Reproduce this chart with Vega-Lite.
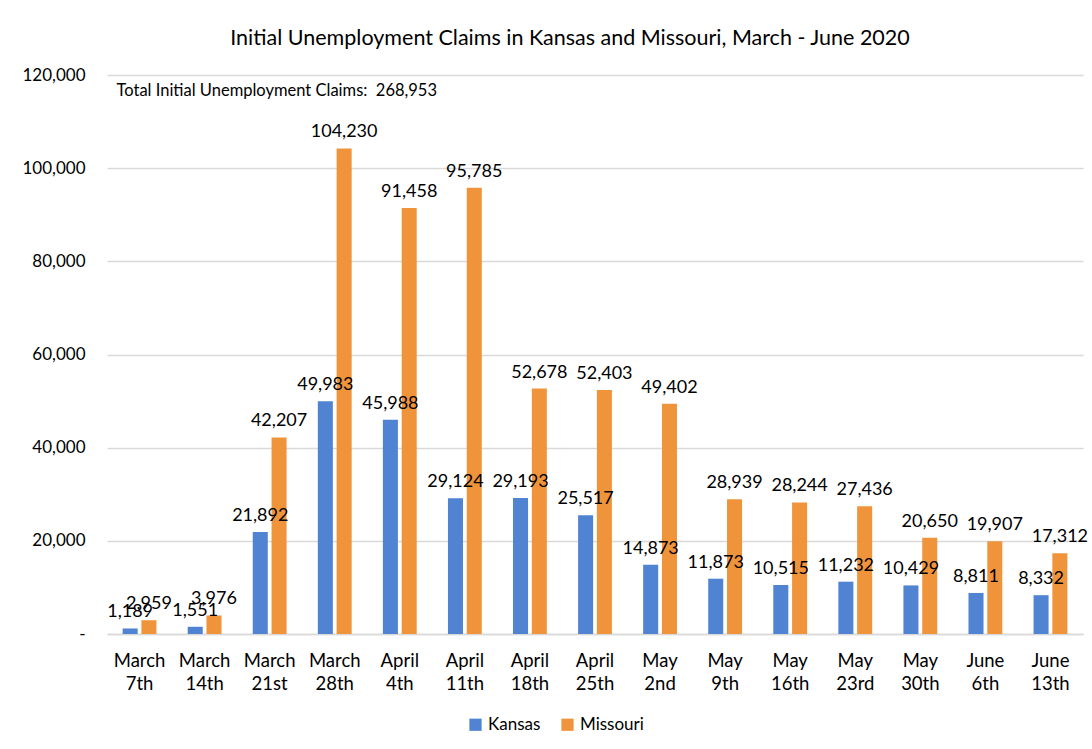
{
  "$schema": "https://vega.github.io/schema/vega-lite/v6.json",
  "autosize": "none",
  "width": 976,
  "height": 559,
  "padding": {"left": 107, "top": 75, "right": 9, "bottom": 115},
  "background": "white",
  "config": {
    "font": "Lato",
    "view": {"stroke": null}
  },
  "title": {
    "text": "Initial Unemployment Claims in Kansas and Missouri, March - June 2020",
    "fontSize": 21.5,
    "fontWeight": "normal",
    "color": "#000000",
    "anchor": "middle",
    "dx": -25,
    "offset": 17,
    "font": "Lato"
  },
  "datasets": {
    "claims": [
      {"week": "March 7th", "state": "Kansas", "claims": 1189},
      {"week": "March 7th", "state": "Missouri", "claims": 2959},
      {"week": "March 14th", "state": "Kansas", "claims": 1551},
      {"week": "March 14th", "state": "Missouri", "claims": 3976},
      {"week": "March 21st", "state": "Kansas", "claims": 21892},
      {"week": "March 21st", "state": "Missouri", "claims": 42207},
      {"week": "March 28th", "state": "Kansas", "claims": 49983},
      {"week": "March 28th", "state": "Missouri", "claims": 104230},
      {"week": "April 4th", "state": "Kansas", "claims": 45988},
      {"week": "April 4th", "state": "Missouri", "claims": 91458},
      {"week": "April 11th", "state": "Kansas", "claims": 29124},
      {"week": "April 11th", "state": "Missouri", "claims": 95785},
      {"week": "April 18th", "state": "Kansas", "claims": 29193},
      {"week": "April 18th", "state": "Missouri", "claims": 52678},
      {"week": "April 25th", "state": "Kansas", "claims": 25517},
      {"week": "April 25th", "state": "Missouri", "claims": 52403},
      {"week": "May 2nd", "state": "Kansas", "claims": 14873},
      {"week": "May 2nd", "state": "Missouri", "claims": 49402},
      {"week": "May 9th", "state": "Kansas", "claims": 11873},
      {"week": "May 9th", "state": "Missouri", "claims": 28939},
      {"week": "May 16th", "state": "Kansas", "claims": 10515},
      {"week": "May 16th", "state": "Missouri", "claims": 28244},
      {"week": "May 23rd", "state": "Kansas", "claims": 11232},
      {"week": "May 23rd", "state": "Missouri", "claims": 27436},
      {"week": "May 30th", "state": "Kansas", "claims": 10429},
      {"week": "May 30th", "state": "Missouri", "claims": 20650},
      {"week": "June 6th", "state": "Kansas", "claims": 8811},
      {"week": "June 6th", "state": "Missouri", "claims": 19907},
      {"week": "June 13th", "state": "Kansas", "claims": 8332},
      {"week": "June 13th", "state": "Missouri", "claims": 17312}
    ],
    "note": [
      {"week": "March 7th", "claims": 116500, "label": "Total Initial Unemployment Claims:\u00a0\u00a0268,953"}
    ]
  },
  "encoding": {
    "x": {
      "field": "week", "type": "nominal",
      "scale": {
        "domain": ["March 7th", "March 14th", "March 21st", "March 28th", "April 4th", "April 11th", "April 18th", "April 25th", "May 2nd", "May 9th", "May 16th", "May 23rd", "May 30th", "June 6th", "June 13th"],
        "paddingInner": 0.48, "paddingOuter": 0.24
      },
      "axis": {
        "title": null, "labelAngle": 0, "labelFontSize": 18.5, "labelColor": "#000000",
        "labelExpr": "split(datum.label, ' ')", "labelLineHeight": 23,
        "labelPadding": 17, "ticks": false, "domainColor": "#d9d9d9", "domainWidth": 1.5
      }
    },
    "y": {
      "field": "claims", "type": "quantitative",
      "scale": {"domain": [0, 120000], "nice": false},
      "axis": {
        "title": null, "values": [0, 20000, 40000, 60000, 80000, 100000, 120000],
        "labelExpr": "datum.value == 0 ? '-\u00a0\u00a0\u00a0' : format(datum.value, ',')",
        "labelFontSize": 17, "labelColor": "#000000", "labelPadding": 22,
        "ticks": false, "domain": false, "gridColor": "#d9d9d9", "gridWidth": 1.5
      }
    }
  },
  "layer": [
    {
      "data": {"name": "claims"},
      "mark": {"type": "bar"},
      "encoding": {
        "xOffset": {"field": "state", "type": "nominal", "scale": {"paddingInner": 0.2}},
        "color": {
          "field": "state", "type": "nominal",
          "scale": {"domain": ["Kansas", "Missouri"], "range": ["#5183d3", "#f0943c"]},
          "legend": {
            "title": null, "orient": "none", "direction": "horizontal",
            "legendX": 360, "legendY": 641, "symbolType": "square", "symbolSize": 150,
            "symbolStrokeWidth": 0, "labelFontSize": 17, "labelColor": "#000000", "columnPadding": 18
          }
        }
      }
    },
    {
      "data": {"name": "claims"},
      "mark": {"type": "text", "fontSize": 18, "baseline": "alphabetic", "dy": -11, "color": "#000000"},
      "encoding": {
        "xOffset": {"field": "state", "type": "nominal"},
        "text": {"field": "claims", "type": "quantitative", "format": ","}
      }
    },
    {
      "data": {"name": "note"},
      "mark": {"type": "text", "fontSize": 16.5, "align": "left", "baseline": "middle", "dx": -23, "color": "#000000"},
      "encoding": {
        "text": {"field": "label"}
      }
    }
  ]
}
